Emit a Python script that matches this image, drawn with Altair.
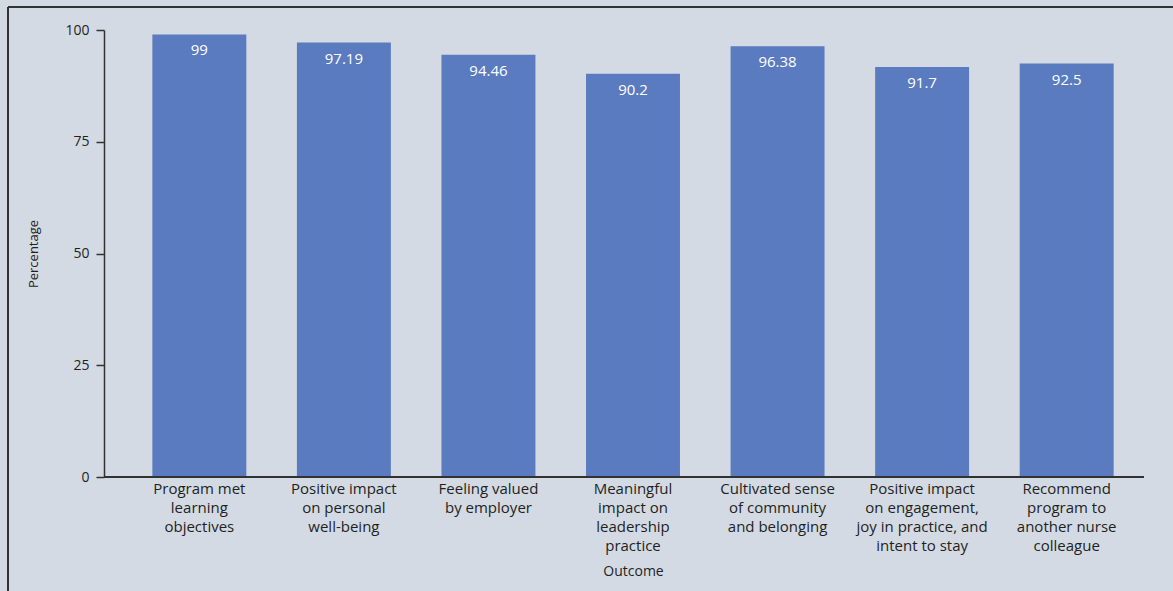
import altair as alt
import pandas as pd

outcomes = [
    "Program met|learning|objectives",
    "Positive impact|on personal|well-being",
    "Feeling valued|by employer",
    "Meaningful|impact on|leadership|practice",
    "Cultivated sense|of community|and belonging",
    "Positive impact|on engagement,|joy in practice, and|intent to stay",
    "Recommend|program to|another nurse|colleague",
]
values = [99, 97.19, 94.46, 90.2, 96.38, 91.7, 92.5]
value_labels = ["99", "97.19", "94.46", "90.2", "96.38", "91.7", "92.5"]

df = pd.DataFrame({"Outcome": outcomes, "Percentage": values, "lab": value_labels})

FONT = "Open Sans"
TXT = "#231f20"
BG = "#d3dae4"
BAR = "#5a7bbf"
W, H = 1022, 447

xenc = alt.X(
    "Outcome:N",
    sort=outcomes,
    title="Outcome",
    scale=alt.Scale(paddingInner=0.35, paddingOuter=0.21),
    axis=alt.Axis(
        labelExpr="split(datum.label, '|')",
        labelAngle=0,
        labelFont=FONT,
        labelFontSize=15,
        labelColor=TXT,
        labelLineHeight=19,
        labelPadding=4,
        ticks=False,
        domain=False,
        titleFont=FONT,
        titleFontSize=14,
        titleFontWeight="normal",
        titleColor=TXT,
        titlePadding=11,
    ),
)

bars = alt.Chart(df).mark_bar(color=BAR).encode(
    x=xenc,
    y=alt.Y(
        "Percentage:Q",
        scale=alt.Scale(domain=[0, 100]),
        title="Percentage",
        axis=alt.Axis(
            values=[0, 25, 50, 75, 100],
            offset=18,
            grid=False,
            domainColor="#333333",
            domainWidth=1.5,
            tickColor="#333333",
            tickWidth=1.5,
            tickSize=8,
            labelFont=FONT,
            labelFontSize=14,
            labelColor=TXT,
            labelPadding=7,
            titleFont=FONT,
            titleFontSize=13,
            titleFontWeight="normal",
            titleColor=TXT,
            titlePadding=24,
        ),
    ),
)

text = alt.Chart(df).mark_text(
    color="white", font=FONT, fontSize=15, baseline="top", dy=9
).encode(x=alt.X("Outcome:N", sort=outcomes), y="Percentage:Q", text="lab:N")

baseline = alt.Chart(df).mark_rule(color="#333333", strokeWidth=1.5).encode(
    x=alt.value(-18), x2=alt.value(W), y=alt.datum(0)
)

frame_top = alt.Chart(df).mark_rule(color="#333333", strokeWidth=2).encode(
    x=alt.value(-114), x2=alt.value(W + 40), y=alt.value(-23)
)
frame_left = alt.Chart(df).mark_rule(color="#333333", strokeWidth=2).encode(
    x=alt.value(-114), y=alt.value(-23), y2=alt.value(H + 130)
)

chart = (
    alt.layer(bars, text, baseline, frame_top, frame_left)
    .properties(
        width=W,
        height=H,
        background=BG,
        padding={"left": 122, "top": 30, "right": 29, "bottom": 114},
        autosize=alt.AutoSizeParams(type="none"),
    )
    .configure_view(stroke=None)
)

chart.save("out.html", embed_options={"renderer": "svg", "actions": False})
